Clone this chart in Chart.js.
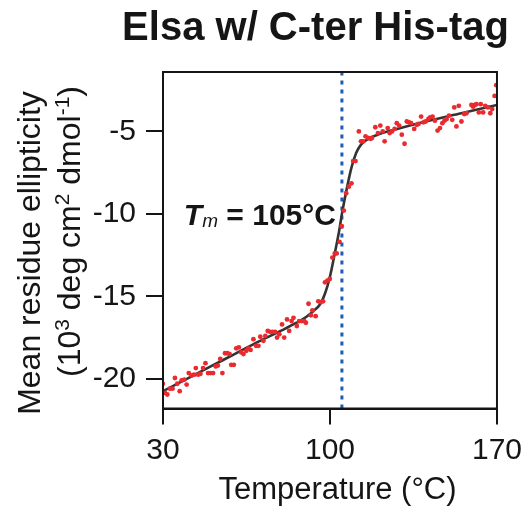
<!DOCTYPE html>
<html>
<head>
<meta charset="utf-8">
<title>Elsa w/ C-ter His-tag</title>
<script src="https://cdn.jsdelivr.net/npm/chart.js@4.4.1/dist/chart.umd.min.js"></script>
<style>
  html, body { margin: 0; padding: 0; background: #fff; }
  #chart { display: block; }
</style>
</head>
<body>
<canvas id="chart" width="530" height="510"></canvas>
<script>
/**
 * Data
 */
const temperature = [
  29.9, 30.8, 31.8, 32.9, 34, 35, 36, 37, 37.8, 38.9, 39.9, 40.8, 42, 43, 43.75,
  44.7, 45.7, 46.8, 47.8, 48.9, 49.9, 51, 52.1, 53, 54, 54.9, 56, 57, 57.9, 58.6,
  59.7, 60.7, 61.8, 62.8, 63.75, 64.9, 65.8, 66.7, 67.9, 69, 70, 70.8, 72.1, 72.9,
  73.9, 74.9, 76, 77, 77.8, 78.75, 79.9, 80.8, 82, 82.9, 83.9, 84.7, 86.1, 87.1,
  88.2, 89.2, 89.9, 91, 92, 92.6, 94, 95.1, 96.1, 97.1, 97.9, 98.9, 99.9, 101,
  102, 102.8, 104, 104.9, 105.8, 106.8, 107.9, 109, 109.7, 110.7, 112.1, 113,
  113.9, 114.9, 116, 117, 117.6, 119, 120.1, 121.1, 122.1, 122.9, 124.2, 125,
  126, 127.1, 128, 129, 130.1, 131.25, 132.2, 133.2, 134, 135.3, 136.4, 137.1,
  138.2, 139.2, 140.1, 141.25, 142, 143, 144, 145.1, 146.1, 147.1, 148, 148.9,
  149.9, 151.25, 152.1, 153, 154, 155.1, 156.25, 157.2, 159.3, 160, 160.7, 161.4,
  162.4, 163.2, 164.2, 165.1, 166.25, 167.2, 168, 169, 169.7
];
const ellipticity = [
  -20.3, -20.85, -20.95, -20.6, -20.6, -19.95, -20.3, -20.75, -20.1, -20.05, -20.35,
  -19.65, -19.8, -19.75, -19.35, -19.75, -19.7, -19.35, -19.05, -19.65, -19.65,
  -19.65, -19.25, -19.2, -18.8, -19.65, -18.45, -18.45, -18.5, -19.15, -19.15,
  -18.15, -18.1, -18.4, -18.5, -18.3, -18.15, -18.25, -17.6, -18, -18, -17.45,
  -17.7, -17.4, -17.1, -17.15, -17.15, -17.15, -17.5, -17.3, -16.7, -17.5, -16.4,
  -17.1, -16.5, -16.3, -16.8, -16.5, -16.5, -16.5, -16.6, -15.45, -16.15, -15.85,
  -16.2, -15.3, -15.35, -15.3, -14.15, -14.05, -13.95, -12.65, -12.4, -12.4, -11.7,
  -10.75, -9.8, -8.75, -8.35, -8.15, -6.8, -6.8, -5, -5.6, -5.6, -5.3, -5.4, -5.45,
  -5.4, -4.75, -5.1, -4.65, -5, -5.6, -4.8, -5.1, -5, -4.85, -4.5, -4.65, -5.2,
  -5.75, -4.4, -4.45, -4.5, -4.85, -4.6, -4.55, -4.1, -4.45, -4.4, -4.25, -4.15,
  -4.1, -4.35, -4.95, -4.8, -4.5, -4.35, -4.25, -4.05, -4.3, -3.55, -4.7, -3.45,
  -4.4, -3.95, -3.9, -3.4, -3.5, -3.4, -3.35, -3.85, -3.35, -3.85, -3.45, -3.55,
  -3.9, -3.65, -2.85, -2.2
];

// fitted two-state curve
const fitTemperature = [30, 40, 50, 60, 70, 80, 86, 90, 93, 96, 98, 100, 102, 104, 105,
  107, 109, 111, 113, 116, 120, 127, 140, 155, 170];
const fitEllipticity = [-20.75, -20.0, -19.25, -18.5, -17.75, -17.05, -16.6, -16.25,
  -15.9, -15.45, -14.8, -13.8, -12.4, -10.9, -10.0, -8.5, -7.2, -6.3, -5.8, -5.45,
  -5.2, -4.9, -4.4, -3.9, -3.4];

const tmValue = 105;
const xRange = [30, 170];
const yRange = [-21.8, -1.4];
const xTicks = [30, 100, 170];
const yTicks = [-20, -15, -10, -5];

/**
 * Styling
 */
const FONT = "'Liberation Sans', Arial, Helvetica, sans-serif";
const INK = '#151515';
Chart.defaults.font.family = FONT;
Chart.defaults.color = INK;

/**
 * Draw a run of text pieces (for superscripts / subscripts)
 */
function drawRuns(ctx, runs, x, y, align) {
  let total = 0;
  runs.forEach((r) => {
    ctx.font = r.font;
    r.w = ctx.measureText(r.text).width;
    total += r.w;
  });
  let cx = align === 'center' ? x - total / 2 : align === 'right' ? x - total : x;
  ctx.textAlign = 'left';
  ctx.textBaseline = 'alphabetic';
  runs.forEach((r) => {
    ctx.font = r.font;
    ctx.fillText(r.text, cx, y + (r.dy || 0));
    cx += r.w;
  });
}

/**
 * Frame, titles, Tm note
 */
const decorations = {
  id: 'decorations',
  afterDatasetsDraw(chart) {
    const { ctx, chartArea: a } = chart;
    ctx.save();
    ctx.strokeStyle = INK;
    ctx.lineWidth = 2;
    ctx.strokeRect(a.left, a.top, a.right - a.left, a.bottom - a.top);
    ctx.restore();
  },
  afterDraw(chart) {
    const { ctx, scales } = chart;
    ctx.save();
    ctx.fillStyle = INK;

    // title
    ctx.font = `bold 40px ${FONT}`;
    ctx.textAlign = 'center';
    ctx.textBaseline = 'alphabetic';
    ctx.fillText('Elsa w/ C-ter His-tag', 315.5, 40);

    // x-axis title
    ctx.font = `31px ${FONT}`;
    ctx.fillText('Temperature (°C)', 337.5, 499);

    // Tm annotation, just left of the dotted line
    const tx = scales.x.getPixelForValue(tmValue) - 6;
    const ty = scales.y.getPixelForValue(-10) + 11;
    drawRuns(ctx, [
      { text: 'T', font: `italic bold 30px ${FONT}` },
      { text: 'm', font: `italic 19px ${FONT}`, dy: 2 },
      { text: ' = 105°C', font: `bold 30px ${FONT}` },
    ], tx, ty, 'right');

    // y-axis title, two rotated lines
    ctx.translate(40, 253);
    ctx.rotate(-Math.PI / 2);
    drawRuns(ctx, [{ text: 'Mean residue ellipticity', font: `32px ${FONT}` }], 0, 0, 'center');
    ctx.rotate(Math.PI / 2);
    ctx.translate(-40, -253);

    ctx.translate(80, 231.5);
    ctx.rotate(-Math.PI / 2);
    drawRuns(ctx, [
      { text: '(10', font: `32px ${FONT}` },
      { text: '3', font: `21px ${FONT}`, dy: -11 },
      { text: ' deg cm', font: `32px ${FONT}` },
      { text: '2', font: `21px ${FONT}`, dy: -11 },
      { text: ' dmol', font: `32px ${FONT}` },
      { text: '-1', font: `21px ${FONT}`, dy: -11 },
      { text: ')', font: `32px ${FONT}` },
    ], 0, 0, 'center');
    ctx.restore();
  },
};

/**
 * Build chart
 */
const points = temperature.map((t, i) => ({ x: t, y: ellipticity[i] }));
const fit = fitTemperature.map((t, i) => ({ x: t, y: fitEllipticity[i] }));
const tmLine = [{ x: tmValue, y: yRange[0] }, { x: tmValue, y: yRange[1] }];

new Chart(document.getElementById('chart'), {
  type: 'scatter',
  data: {
    datasets: [
      {
        data: points,
        order: 0,
        pointRadius: 2.4,
        pointBackgroundColor: '#ea2a2f',
        pointBorderWidth: 0,
        showLine: false,
      },
      {
        data: fit,
        order: 1,
        showLine: true,
        borderColor: '#333333',
        borderWidth: 2.6,
        pointRadius: 0,
        cubicInterpolationMode: 'monotone',
      },
      {
        data: tmLine,
        order: 2,
        showLine: true,
        borderColor: '#1d5db3',
        borderWidth: 3,
        borderDash: [4, 5],
        pointRadius: 0,
      },
    ],
  },
  options: {
    responsive: false,
    animation: false,
    devicePixelRatio: 1,
    layout: { padding: { left: 0, right: 31, top: 72, bottom: 0 } },
    plugins: {
      legend: { display: false },
      tooltip: { enabled: false },
    },
    scales: {
      x: {
        type: 'linear',
        min: xRange[0],
        max: xRange[1],
        afterBuildTicks: (s) => { s.ticks = xTicks.map((v) => ({ value: v })); },
        afterFit: (s) => { s.height = 101.5; },
        grid: { drawOnChartArea: false, tickLength: 16, color: INK, lineWidth: 2 },
        border: { color: INK, width: 2 },
        ticks: { font: { size: 30 }, color: INK, padding: 8, maxRotation: 0 },
      },
      y: {
        type: 'linear',
        min: yRange[0],
        max: yRange[1],
        afterBuildTicks: (s) => { s.ticks = yTicks.map((v) => ({ value: v })); },
        afterFit: (s) => { s.width = 163; },
        grid: { drawOnChartArea: false, tickLength: 17, color: INK, lineWidth: 2 },
        border: { color: INK, width: 2 },
        ticks: { font: { size: 30 }, color: INK, padding: 10 },
      },
    },
  },
  plugins: [decorations],
});
</script>
</body>
</html>
